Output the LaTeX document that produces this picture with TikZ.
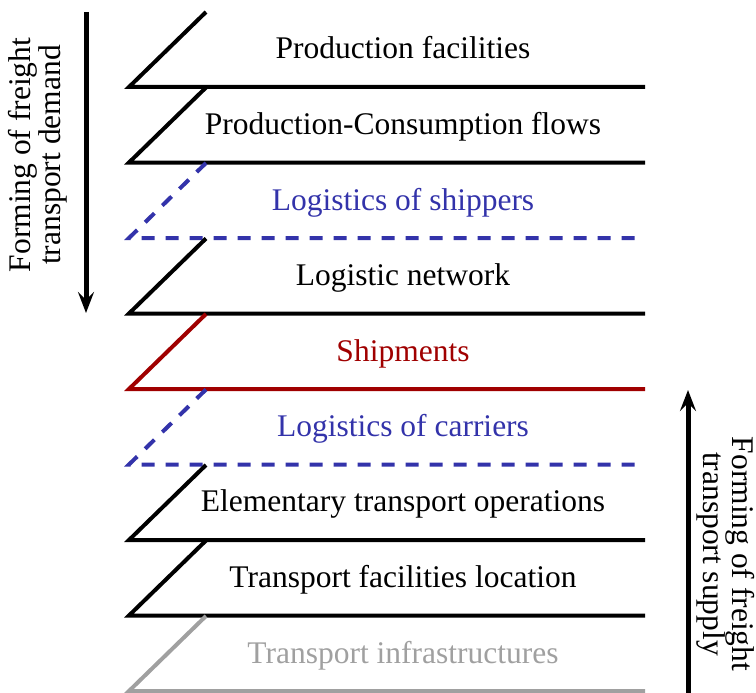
\documentclass[tikz,border=0pt]{standalone}
\usepackage{fontspec}
\setmainfont{Liberation Serif}
\usetikzlibrary{arrows.meta}
\definecolor{lblue}{RGB}{51,51,170}
\definecolor{lred}{RGB}{160,0,0}
\definecolor{lgray}{RGB}{160,160,160}
\begin{document}
\begin{tikzpicture}[x=1pt,y=-1pt,
  layerline/.style={line width=4pt, line join=miter},
  dashedlayer/.style={layerline, lblue, dash pattern=on 13pt off 11pt},
  lbl/.style={anchor=base, inner sep=0pt, font=\fontsize{31.5}{36}\selectfont},
  side/.style={anchor=base, inner sep=0pt, align=center, font=\fontsize{31.5}{27.5}\selectfont},
  bigarrow/.style={line width=5pt, -{Stealth[length=21pt,width=16pt,inset=8pt]}}]
\useasboundingbox (0,0) rectangle (756,693);
% layers
\draw[layerline] (206,12) -- (129,87) -- (645,87);
\draw[layerline] (206,87.5) -- (129,162.5) -- (645,162.5);
\draw[dashedlayer] (206,163) -- (129,238) -- (645,238);
\draw[layerline] (206,238.5) -- (129,313.5) -- (645,313.5);
\draw[layerline, lred] (206,314) -- (129,389) -- (645,389);
\draw[dashedlayer] (206,389.5) -- (129,464.5) -- (645,464.5);
\draw[layerline] (206,465) -- (129,540) -- (645,540);
\draw[layerline] (206,540.5) -- (129,615.5) -- (645,615.5);
\draw[layerline, lgray] (206,616) -- (129,691) -- (645,691);
% labels
\node[lbl] (l1) at (403,59) {Production facilities};
\node[lbl] (l2) at (403,134.5) {Production-Consumption flows};
\node[lbl, lblue] (l3) at (403,210) {Logistics of shippers};
\node[lbl] (l4) at (403,285.5) {Logistic network};
\node[lbl, lred] (l5) at (403,361) {Shipments};
\node[lbl, lblue] (l6) at (403,436.5) {Logistics of carriers};
\node[lbl] (l7) at (403,511.5) {Elementary transport operations};
\node[lbl] (l8) at (403,587.5) {Transport facilities location};
\node[lbl, lgray] (l9) at (403,663) {Transport infrastructures};
% side arrows
\coordinate (dtop) at (86,12);
\coordinate (dbot) at (86,313);
\draw[bigarrow] (dtop) -- (dbot);
\coordinate (sbot) at (688,693);
\coordinate (stop) at (688,390);
\draw[bigarrow] (sbot) -- (stop);
\node[side, rotate=90] (dem) at (60,155) {Forming of freight\\transport demand};
\node[side, rotate=-90] (sup) at (703,554) {Forming of freight\\transport supply};
\end{tikzpicture}
\end{document}
